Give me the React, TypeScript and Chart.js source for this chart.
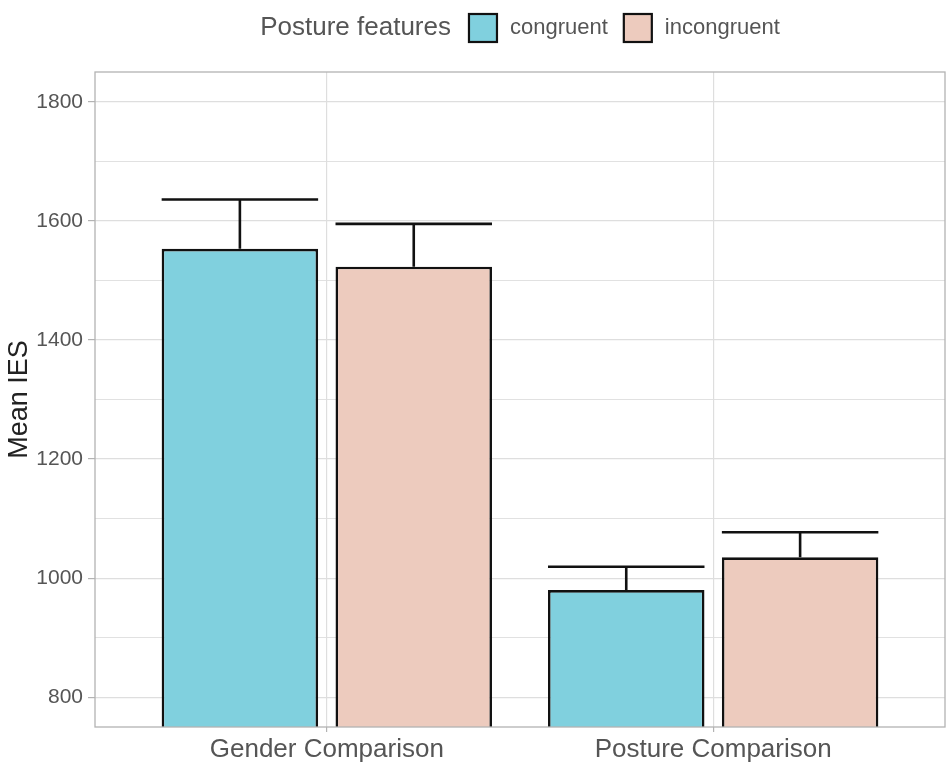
import { useEffect, useRef } from 'react';
import { Chart, registerables } from 'chart.js';

Chart.register(...registerables);

// values (mean IES and top of the error bar)
const categories = ['Gender Comparison', 'Posture Comparison'];
const groups = ['congruent', 'incongruent'];
const congruentMeans = [1553, 980];
const incongruentMeans = [1523, 1035];
const congruentUpper = [1636, 1019];
const incongruentUpper = [1595, 1077];
const yTicks = [800, 1000, 1200, 1400, 1600, 1800];
const yMinorTicks = [900, 1100, 1300, 1500, 1700];
const groupColors = ['#80D0DE', '#EDCBBE'];
const legendTitle = 'Posture features';
const yTitle = 'Mean IES';

const FONT = '"Liberation Sans", Arial, sans-serif';
const GREY_TEXT = '#555555';
const GRID = '#DEDEDE';
const BORDER = '#B3B3B3';

const errorBarPlugin = {
    id: 'errorBars',
    afterDatasetsDraw(chart: Chart) {
        const { ctx } = chart;
        const yScale = chart.scales.y;
        const uppers = [congruentUpper, incongruentUpper];
        ctx.save();
        ctx.strokeStyle = '#111111';
        ctx.lineWidth = 2.6;
        chart.data.datasets.forEach((_, d) => {
            const meta = chart.getDatasetMeta(d);
            meta.data.forEach((el: any, i) => {
                const { x, y, width } = el.getProps(['x', 'y', 'width'], true);
                const top = yScale.getPixelForValue(uppers[d][i]);
                ctx.beginPath();
                ctx.moveTo(x, y);
                ctx.lineTo(x, top);
                ctx.moveTo(x - width / 2, top);
                ctx.lineTo(x + width / 2, top);
                ctx.stroke();
            });
        });
        ctx.restore();
    },
};

// panel border + ggplot-style horizontal legend with title
const panelAndLegendPlugin = {
    id: 'panelAndLegend',
    afterDraw(chart: Chart) {
        const { ctx, chartArea } = chart;
        ctx.save();
        ctx.strokeStyle = BORDER;
        ctx.lineWidth = 1.3;
        ctx.strokeRect(chartArea.left, chartArea.top, chartArea.right - chartArea.left, chartArea.bottom - chartArea.top);

        const titleFont = `26px ${FONT}`;
        const labelFont = `22px ${FONT}`;
        const box = 28;
        const gapTitle = 18;
        const gapBox = 13;
        const gapItem = 16;
        ctx.font = titleFont;
        const titleW = ctx.measureText(legendTitle).width;
        ctx.font = labelFont;
        const labelW = groups.map((g) => ctx.measureText(g).width);
        const total = titleW + gapTitle + labelW.reduce((s, w) => s + box + gapBox + w, 0) + gapItem * (groups.length - 1);
        let x = (chartArea.left + chartArea.right) / 2 - total / 2;
        const cy = 28;

        ctx.textBaseline = 'middle';
        ctx.textAlign = 'left';
        ctx.fillStyle = GREY_TEXT;
        ctx.font = titleFont;
        ctx.fillText(legendTitle, x, cy);
        x += titleW + gapTitle;

        groups.forEach((g, i) => {
            ctx.fillStyle = groupColors[i];
            ctx.fillRect(x, cy - box / 2, box, box);
            ctx.strokeStyle = '#111111';
            ctx.lineWidth = 2.2;
            ctx.strokeRect(x, cy - box / 2, box, box);
            x += box + gapBox;
            ctx.fillStyle = GREY_TEXT;
            ctx.font = labelFont;
            ctx.fillText(g, x, cy);
            x += labelW[i] + gapItem;
        });
        ctx.restore();
    },
};

const BarChart = () => {
    const canvasRef = useRef<HTMLCanvasElement | null>(null);
    const chartInstance = useRef<Chart | null>(null);

    useEffect(() => {
        document.body.style.margin = '0';
        if (!canvasRef.current) return;
        if (chartInstance.current) chartInstance.current.destroy();

        const means = [congruentMeans, incongruentMeans];

        chartInstance.current = new Chart(canvasRef.current, {
            type: 'bar',
            data: {
                datasets: groups.map((g, d) => ({
                    label: g,
                    data: means[d].map((v, i) => ({ x: i + 1, y: v })),
                    backgroundColor: groupColors[d],
                    borderColor: '#111111',
                    borderWidth: 2.6,
                    categoryPercentage: 0.9,
                    barPercentage: 0.9,
                })),
            },
            options: {
                animation: false,
                responsive: true,
                maintainAspectRatio: false,
                layout: { padding: { top: 72, right: 5, left: 0, bottom: 0 } },
                plugins: {
                    legend: { display: false },
                    tooltip: { enabled: false },
                },
                scales: {
                    x: {
                        type: 'linear',
                        offset: false,
                        min: 0.4,
                        max: categories.length + 0.6,
                        afterBuildTicks: (scale: any) => {
                            scale.ticks = categories.map((_, i) => ({ value: i + 1 }));
                        },
                        afterFit: (scale: any) => {
                            scale.height = 56;
                        },
                        grid: {
                            offset: false,
                            color: GRID,
                            lineWidth: 1.2,
                            tickColor: BORDER,
                            tickLength: 5,
                        },
                        border: { display: false },
                        ticks: {
                            autoSkip: false,
                            maxRotation: 0,
                            padding: 2,
                            color: GREY_TEXT,
                            font: { family: FONT, size: 26 },
                            callback: (value: any) => categories[Math.round(Number(value)) - 1] ?? '',
                        },
                    },
                    y: {
                        min: 750,
                        max: 1850,
                        afterBuildTicks: (scale: any) => {
                            scale.ticks = [...yTicks, ...yMinorTicks].sort((a, b) => a - b).map((v) => ({ value: v }));
                        },
                        afterFit: (scale: any) => {
                            scale.width = 95;
                        },
                        grid: {
                            color: GRID,
                            lineWidth: (ctx: any) => (yTicks.includes(ctx.tick?.value) ? 1.2 : 0.9),
                            tickColor: (ctx: any) => (yTicks.includes(ctx.tick?.value) ? BORDER : 'rgba(0,0,0,0)'),
                            tickLength: 7,
                        },
                        border: { display: false },
                        title: {
                            display: true,
                            text: yTitle,
                            color: '#222222',
                            font: { family: FONT, size: 27 },
                            padding: { top: 3, bottom: 0 },
                        },
                        ticks: {
                            padding: 5,
                            color: GREY_TEXT,
                            font: { family: FONT, size: 21 },
                            callback: (value: any) => (yTicks.includes(Number(value)) ? String(value) : ''),
                        },
                    },
                },
            },
            plugins: [errorBarPlugin, panelAndLegendPlugin],
        } as any);

        return () => {
            if (chartInstance.current) {
                chartInstance.current.destroy();
                chartInstance.current = null;
            }
        };
    }, []);

    return (
        <div style={{ position: 'relative', width: '950px', height: '783px' }}>
            <canvas ref={canvasRef} />
        </div>
    );
};

export default function App() {
    return <BarChart />;
}
